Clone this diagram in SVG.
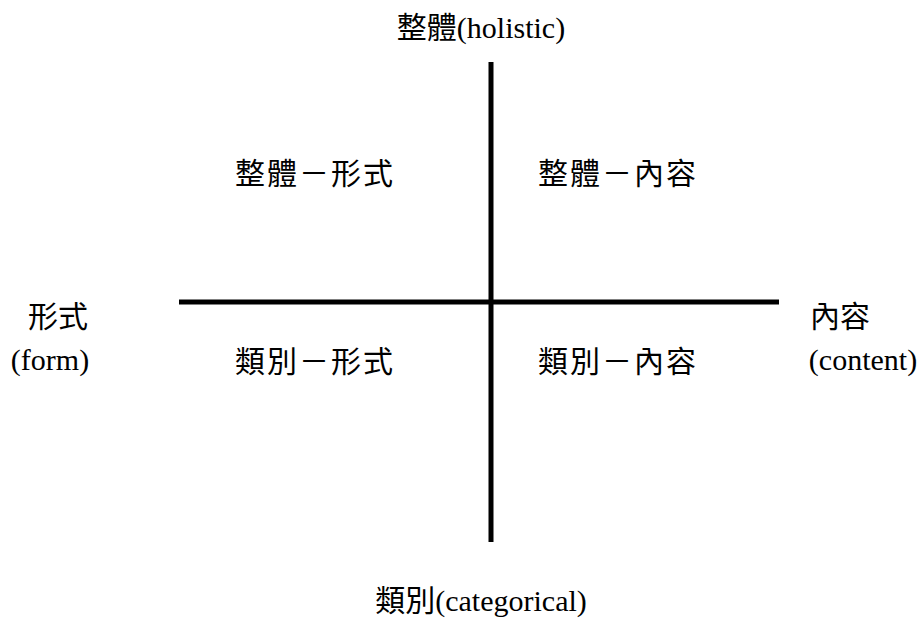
<svg xmlns="http://www.w3.org/2000/svg" width="920" height="619" viewBox="0 0 920 619">
<style>
text{font-family:"Liberation Serif","Noto Sans CJK TC",serif;font-size:30px;fill:#000}
.q{letter-spacing:2px}
.ax{stroke:#000;stroke-width:5;fill:none}
</style>
<rect width="920" height="619" fill="#fff"/>
<g id="axes">
<line class="ax" x1="179" y1="302" x2="779" y2="302"/>
<line class="ax" x1="491" y1="62" x2="491" y2="542"/>
</g>
<g id="top"><text x="481" y="38" text-anchor="middle">整體(holistic)</text></g>
<g id="bottom"><text x="481" y="611" text-anchor="middle">類別(categorical)</text></g>
<g id="left"><text x="58" y="327" text-anchor="middle">形式</text><text x="50" y="370" text-anchor="middle">(form)</text></g>
<g id="right"><text x="840" y="327" text-anchor="middle">內容</text><text x="863" y="370" text-anchor="middle">(content)</text></g>
<g id="q1"><text class="q" x="315" y="184" text-anchor="middle">整體－形式</text></g>
<g id="q2"><text class="q" x="618" y="184" text-anchor="middle">整體－內容</text></g>
<g id="q3"><text class="q" x="315" y="372" text-anchor="middle">類別－形式</text></g>
<g id="q4"><text class="q" x="618" y="372" text-anchor="middle">類別－內容</text></g>
</svg>
